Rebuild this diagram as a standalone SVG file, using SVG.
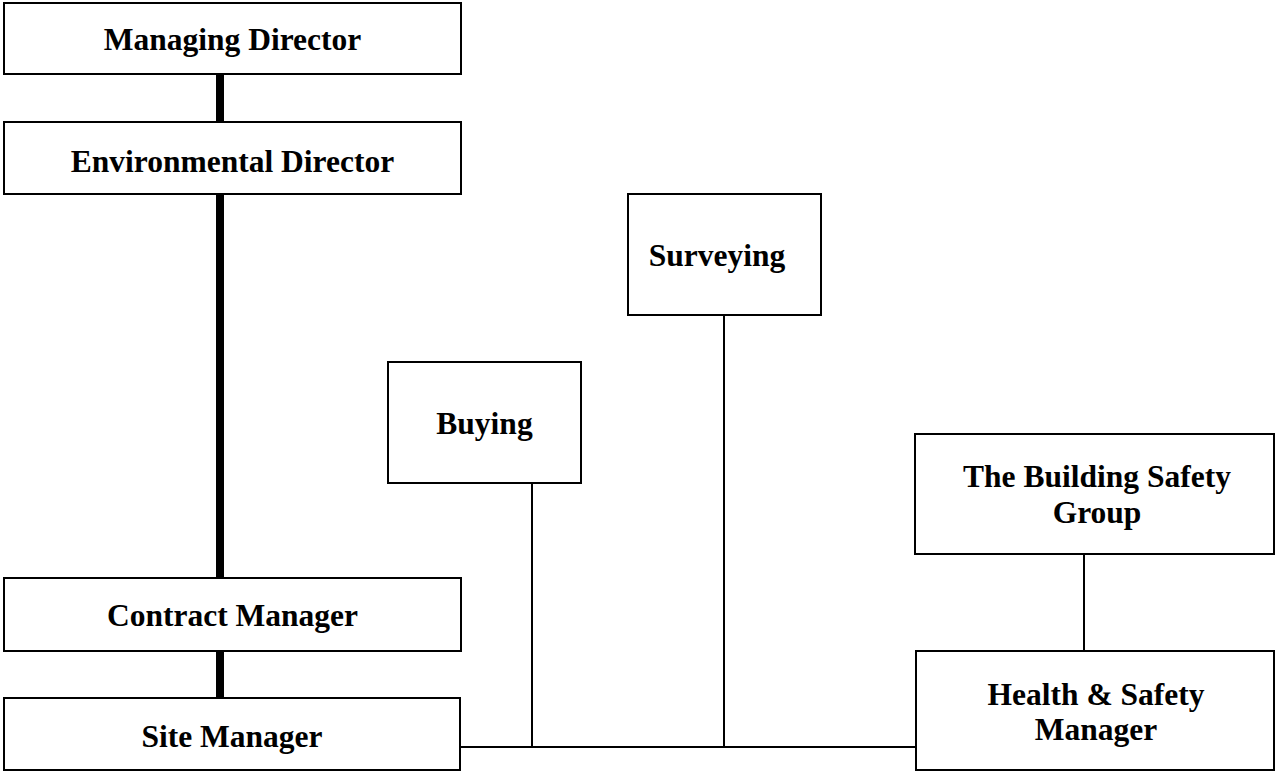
<svg xmlns="http://www.w3.org/2000/svg" width="1276" height="772" viewBox="0 0 1276 772">
<style>
.box{fill:#fff;stroke:#000;stroke-width:2}
.t{font-family:"Liberation Serif","Times New Roman",serif;font-weight:bold;font-size:31.5px;fill:#000;text-anchor:middle}
.thick{stroke:#000;stroke-width:8;fill:none}
.thin{stroke:#000;stroke-width:2;fill:none}
</style>
<rect width="1276" height="772" fill="#fff"/>
<g id="connectors">
<line class="thick" x1="220" y1="74" x2="220" y2="122"/>
<line class="thick" x1="220" y1="194" x2="220" y2="578"/>
<line class="thick" x1="220" y1="651" x2="220" y2="698"/>
<line class="thin" x1="460" y1="747" x2="916" y2="747"/>
<line class="thin" x1="532" y1="483" x2="532" y2="747"/>
<line class="thin" x1="724" y1="315" x2="724" y2="747"/>
<line class="thin" x1="1084" y1="554" x2="1084" y2="651"/>
</g>
<g id="managing-director">
<rect class="box" x="4" y="3" width="457" height="71"/>
<text class="t" x="232.5" y="50">Managing Director</text>
</g>
<g id="environmental-director">
<rect class="box" x="4" y="122" width="457" height="72"/>
<text class="t" x="232.5" y="172">Environmental Director</text>
</g>
<g id="contract-manager">
<rect class="box" x="4" y="578" width="457" height="73"/>
<text class="t" x="232.5" y="626">Contract Manager</text>
</g>
<g id="site-manager">
<rect class="box" x="4" y="698" width="456" height="72"/>
<text class="t" x="232" y="747">Site Manager</text>
</g>
<g id="buying">
<rect class="box" x="388" y="362" width="193" height="121"/>
<text class="t" x="484.5" y="434">Buying</text>
</g>
<g id="surveying">
<rect class="box" x="628" y="194" width="193" height="121"/>
<text class="t" x="717" y="266">Surveying</text>
</g>
<g id="building-safety-group">
<rect class="box" x="915" y="434" width="359" height="120"/>
<text class="t" x="1097" y="487">The Building Safety</text>
<text class="t" x="1097" y="523">Group</text>
</g>
<g id="health-safety-manager">
<rect class="box" x="916" y="651" width="358" height="119"/>
<text class="t" x="1096" y="705">Health &amp; Safety</text>
<text class="t" x="1096" y="740">Manager</text>
</g>
</svg>
